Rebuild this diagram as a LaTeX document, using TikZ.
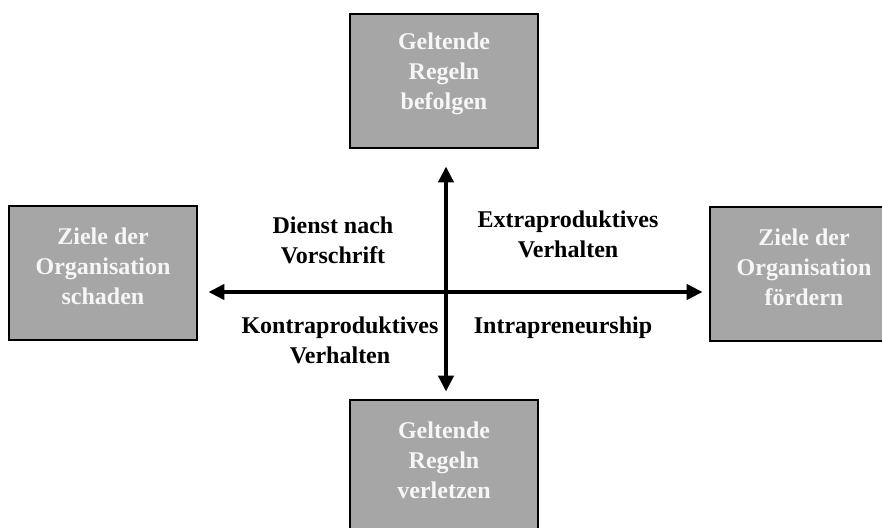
\documentclass[tikz,border=0pt]{standalone}
\usepackage{fontspec}
\setmainfont{Liberation Serif}
\usepackage{xcolor}
\usetikzlibrary{positioning,arrows.meta}

\definecolor{boxgray}{HTML}{A6A6A6}
\definecolor{boxtxt}{HTML}{F6F6F6}

\begin{document}
\begin{tikzpicture}[x=1pt, y=-1pt, every node/.style={font=\fontsize{24}{30}\selectfont\bfseries, align=center},
  quadbox/.style={draw, line width=2.8pt, fill=boxgray, minimum width=188pt, minimum height=134pt, inner sep=0pt},
  boxtext/.style={text=boxtxt, yshift=7pt},
  axis/.style={line width=4pt, {Triangle[length=16pt,width=15pt]}-{Triangle[length=16pt,width=15pt]}}]

\useasboundingbox (0,0) rectangle (882,527);

\node (follow) [quadbox, label={[boxtext]center:Geltende\\Regeln\\befolgen}] at (444,81) {};
\node (harm) [quadbox, label={[boxtext]center:Ziele der\\Organisation\\schaden}] at (103,273) {};
\node (promote) [quadbox, label={[boxtext]center:Ziele der\\Organisation\\fördern}] at (804,274) {};
\node (violate) [quadbox, label={[boxtext]center:Geltende\\Regeln\\verletzen}] at (444,467) {};

\coordinate (cross) at (446,292);

\node (dienst) at (333,240) {Dienst nach\\Vorschrift};
\node (extra) at (568,234) {Extraproduktives\\Verhalten};
\node (kontra) at (340,340) {Kontraproduktives\\Verhalten};
\node (intra) at (563,328) {Intrapreneurship};

\draw[axis, shorten <=10pt, shorten >=6pt] (cross -| harm.east) -- (cross -| promote.west);
\draw[axis, shorten <=17pt, shorten >=7pt] (cross |- follow.south) -- (cross |- violate.north);

\end{tikzpicture}
\end{document}
